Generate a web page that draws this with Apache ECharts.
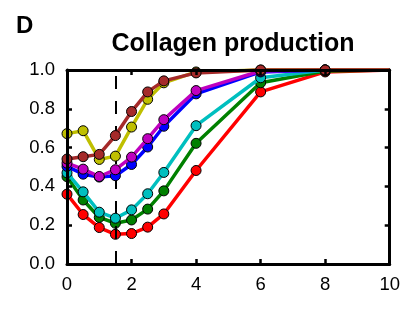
<!DOCTYPE html>
<html>
<head>
<meta charset="utf-8">
<script src="https://cdn.jsdelivr.net/npm/echarts@6/dist/echarts.min.js"></script>
<style>
  html, body { margin: 0; padding: 0; background: #fff; }
  #chart { width: 403px; height: 324px; }
</style>
</head>
<body>
<div id="chart"></div>
<script>
// time points (x) and the marked cutoff
const xs = [0, 0.5, 1, 1.5, 2, 2.5, 3, 4, 6, 8, 10];
const cutoff = 1.5;
const xTicks = [0, 2, 4, 6, 8, 10];
const yTicks = [0, 0.2, 0.4, 0.6, 0.8, 1.0];

// series values
const red     = [0.36, 0.255, 0.188, 0.153, 0.157, 0.19, 0.258, 0.482, 0.887, 0.99, 1.0];
const green   = [0.45, 0.33, 0.24, 0.21, 0.227, 0.283, 0.377, 0.622, 0.934, 0.995, 1.0];
const cyan    = [0.47, 0.372, 0.267, 0.236, 0.279, 0.362, 0.472, 0.713, 0.96, 1.0, 1.0];
const blue    = [0.503, 0.463, 0.448, 0.455, 0.513, 0.603, 0.71, 0.877, 0.99, 1.0, 1.0];
const magenta = [0.52, 0.489, 0.451, 0.486, 0.551, 0.646, 0.744, 0.894, 0.995, 1.0, 1.0];
const yellow  = [0.672, 0.687, 0.539, 0.556, 0.706, 0.849, 0.934, 0.99, 1.0, 1.0, 1.0];
const brown   = [0.541, 0.553, 0.565, 0.662, 0.786, 0.887, 0.944, 0.985, 1.0, 1.0, 1.0];

const lines = [
  { vals: red, color: '#ff0000' },
  { vals: green, color: '#008000' },
  { vals: cyan, color: '#00bfbf' },
  { vals: blue, color: '#0000ff' },
  { vals: magenta, color: '#bf00bf' },
  { vals: yellow, color: '#bfbf00' },
  { vals: brown, color: '#a52a2a' }
];

const chart = echarts.init(document.getElementById('chart'));
const font = 'Liberation Sans, Arial, sans-serif';

// frame axis settings (shared)
function frameAxis(extra) {
  return Object.assign({
    type: 'value',
    axisLine: { show: true, onZero: false, lineStyle: { color: '#000', width: 3 } },
    axisTick: { show: true, inside: true, length: 5, lineStyle: { color: '#000', width: 2.5 } },
    splitLine: { show: false },
    z: 10
  }, extra);
}

const series = lines.map(function (l, i) {
  return {
    type: 'line',
    data: xs.map(function (x, j) {
      // the last point sits under the frame, no marker there
      const item = { value: [x, l.vals[j]] };
      if (x === 10) item.symbolSize = 0;
      return item;
    }),
    symbol: 'circle',
    symbolSize: 10,
    showAllSymbol: true,
    clip: false,
    z: 3 + i,
    lineStyle: { color: l.color, width: 3.5 },
    itemStyle: { color: l.color, borderColor: '#000', borderWidth: 1 },
    animation: false
  };
});

// dashed vertical line at the cutoff
series.push({
  type: 'line',
  data: [],
  markLine: {
    silent: true,
    symbol: 'none',
    label: { show: false },
    lineStyle: { color: '#000', width: 2, type: [13, 12] },
    data: [{ xAxis: cutoff }]
  },
  z: 2,
  animation: false
});

chart.setOption({
  animation: false,
  title: [
    {
      text: 'D', left: 11, top: 9,
      textStyle: { fontFamily: font, fontSize: 24, fontWeight: 'bold', color: '#000' }
    },
    {
      text: 'Collagen production', left: 228, top: 27, textAlign: 'center',
      textStyle: { fontFamily: font, fontSize: 25, fontWeight: 'bold', color: '#000' }
    }
  ],
  grid: { left: 67, right: 12, top: 70, bottom: 60 },
  xAxis: [
    frameAxis({
      position: 'bottom', min: 0, max: 10, interval: 2,
      axisLabel: {
        color: '#000', fontFamily: font, fontSize: 18.5, margin: 11,
        formatter: function (v) { return xTicks.indexOf(v) >= 0 ? String(v) : ''; }
      }
    }),
    frameAxis({ position: 'top', min: 0, max: 10, interval: 2, axisLabel: { show: false } })
  ],
  yAxis: [
    frameAxis({
      position: 'left', min: 0, max: 1, interval: 0.2,
      axisLabel: {
        color: '#000', fontFamily: font, fontSize: 18.5, margin: 12,
        formatter: function (v) { return v.toFixed(1); }
      }
    }),
    frameAxis({ position: 'right', min: 0, max: 1, interval: 0.2, axisLabel: { show: false } })
  ],
  series: series
});
</script>
</body>
</html>
